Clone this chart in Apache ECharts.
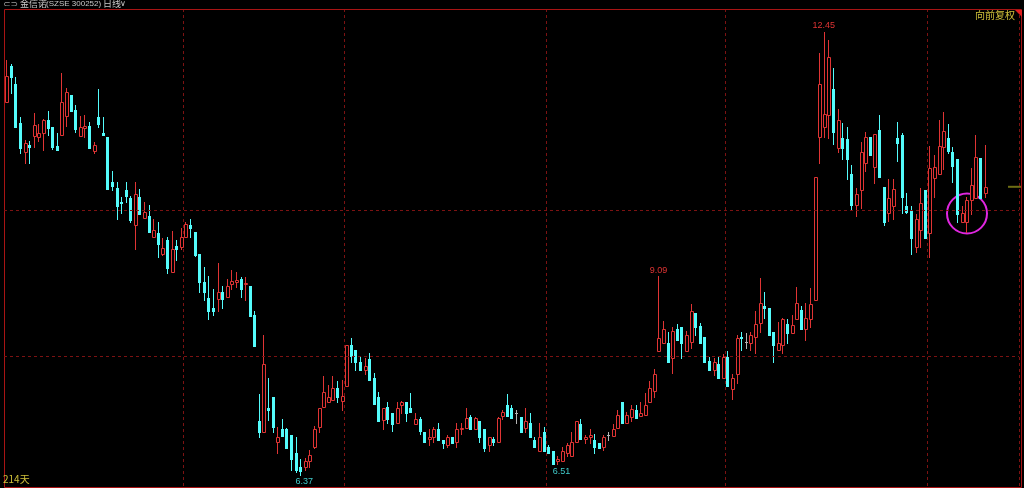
<!DOCTYPE html>
<html>
<head>
<meta charset="utf-8">
<script src="https://cdn.jsdelivr.net/npm/echarts@6/dist/echarts.min.js"></script>
<style>
html, body { margin: 0; padding: 0; background: #000; }
#chart { width: 1024px; height: 488px; }
</style>
</head>
<body>
<div id="chart"></div>
<script>
// 金信诺 日线 前复权, 214 根K线
var openP = [
  11.49, 11.98, 11.73, 11.20, 10.80, 10.90, 11.02, 11.01, 11.06, 11.23,
  11.14, 10.88, 11.03, 11.29, 11.58, 11.38, 11.02, 11.13, 11.16, 10.81,
  11.28, 11.06, 11.01, 10.39, 10.31, 10.11, 10.28, 10.16, 9.79, 10.18,
  9.89, 9.92, 9.63, 9.69, 9.40, 9.59, 9.15, 9.51, 9.50, 9.63,
  9.80, 9.70, 9.40, 9.02, 8.80, 8.66, 8.78, 8.87, 8.81, 8.99,
  9.02, 9.06, 8.99, 8.96, 8.56, 7.11, 6.96, 7.29, 7.43, 6.82,
  6.99, 6.99, 6.92, 6.67, 6.48, 6.48, 6.55, 6.75, 7.03, 7.30,
  7.37, 7.40, 7.56, 7.38, 7.58, 8.15, 8.08, 7.91, 7.81, 7.95,
  7.70, 7.44, 7.12, 7.30, 7.21, 7.08, 7.32, 7.36, 7.29, 7.07,
  7.14, 6.96, 6.86, 6.89, 6.99, 6.85, 6.78, 6.89, 6.82, 7.00,
  7.01, 7.16, 6.99, 7.10, 6.99, 6.78, 6.86, 6.82, 7.18, 7.32,
  7.29, 7.21, 7.16, 7.01, 7.08, 6.85, 6.69, 6.96, 6.75, 6.69,
  6.55, 6.55, 6.67, 6.63, 6.82, 7.07, 6.86, 6.88, 6.84, 6.81,
  6.75, 6.92, 6.90, 7.01, 7.36, 7.08, 7.16, 7.26, 7.18, 7.19,
  7.37, 7.52, 8.07, 8.18, 8.17, 7.97, 8.37, 8.39, 8.07, 8.19,
  8.59, 8.41, 8.26, 7.93, 7.80, 7.89, 7.70, 7.99, 7.55, 7.75,
  8.26, 8.19, 8.18, 8.26, 8.45, 8.69, 8.66, 8.33, 8.08, 8.15,
  8.44, 8.32, 8.51, 8.63, 8.37, 8.51, 8.77, 11.01, 11.14, 11.31,
  11.66, 10.85, 10.99, 10.98, 10.50, 10.07, 10.27, 10.64, 11.01, 10.59,
  11.10, 10.32, 9.96, 10.06, 10.99, 11.03, 10.06, 9.99, 9.50, 9.73,
  10.28, 9.69, 10.44, 10.50, 10.87, 10.99, 10.80, 10.70, 9.84, 9.84,
  10.14, 10.16, 10.72, 10.24
];
var closeP = [
  11.84, 11.83, 11.14, 10.85, 10.92, 10.87, 11.17, 11.06, 11.24, 11.13,
  10.87, 10.83, 11.49, 11.62, 11.36, 11.12, 11.14, 11.16, 10.85, 10.90,
  11.18, 11.03, 10.29, 10.33, 10.05, 10.10, 10.20, 9.87, 10.22, 9.95,
  9.98, 9.70, 9.73, 9.54, 9.48, 9.21, 9.47, 9.47, 9.63, 9.81,
  9.76, 9.39, 9.02, 8.87, 8.61, 8.62, 8.88, 8.78, 8.96, 9.03,
  9.04, 8.92, 9.00, 8.55, 8.13, 6.95, 7.89, 7.25, 7.03, 6.89,
  6.90, 6.73, 6.59, 6.44, 6.42, 6.55, 6.64, 6.99, 7.29, 7.51,
  7.43, 7.56, 7.44, 7.45, 8.15, 8.00, 7.91, 7.81, 7.86, 7.67,
  7.34, 7.11, 7.29, 7.14, 7.07, 7.29, 7.36, 7.22, 7.23, 7.14,
  6.97, 6.82, 6.89, 6.99, 6.85, 6.81, 6.88, 6.81, 6.99, 7.01,
  7.15, 6.99, 7.15, 6.88, 6.74, 6.88, 6.82, 7.15, 7.23, 7.18,
  7.15, 7.21, 6.96, 7.10, 6.88, 6.75, 6.89, 6.69, 6.66, 6.52,
  6.59, 6.69, 6.77, 6.82, 7.10, 6.86, 6.88, 6.92, 6.75, 6.74,
  6.89, 6.92, 7.00, 7.19, 7.08, 7.19, 7.27, 7.15, 7.22, 7.33,
  7.56, 7.75, 8.24, 8.37, 7.92, 8.34, 8.22, 8.18, 8.29, 8.61,
  8.40, 8.18, 7.91, 7.80, 7.92, 7.69, 7.99, 7.59, 7.69, 8.25,
  8.24, 8.19, 8.29, 8.44, 8.73, 8.66, 8.29, 8.15, 8.18, 8.51,
  8.32, 8.43, 8.73, 8.37, 8.52, 8.71, 10.45, 11.73, 11.32, 12.10,
  11.07, 11.24, 10.85, 10.70, 10.07, 10.22, 10.80, 11.01, 10.76, 11.05,
  10.46, 9.84, 10.17, 10.29, 10.92, 10.18, 9.98, 9.62, 9.88, 10.10,
  9.62, 10.58, 10.59, 10.88, 11.09, 10.81, 10.61, 9.94, 9.96, 10.14,
  10.35, 10.73, 10.17, 10.32
];
var lowP = [
  11.49, 11.61, 11.14, 10.79, 10.65, 10.65, 10.87, 10.95, 10.83, 11.03,
  10.84, 10.83, 11.03, 11.16, 11.36, 11.07, 11.02, 11.01, 10.85, 10.79,
  11.14, 11.03, 10.29, 10.28, 9.88, 9.96, 10.11, 9.84, 9.47, 9.95,
  9.89, 9.70, 9.63, 9.36, 9.39, 9.14, 9.15, 9.32, 9.46, 9.63,
  9.63, 9.37, 8.88, 8.77, 8.51, 8.56, 8.62, 8.66, 8.81, 8.92,
  8.95, 8.81, 8.77, 8.55, 8.13, 6.88, 6.96, 7.12, 6.96, 6.66,
  6.90, 6.73, 6.44, 6.41, 6.37, 6.44, 6.48, 6.73, 6.95, 7.30,
  7.37, 7.40, 7.36, 7.26, 7.58, 7.91, 7.80, 7.81, 7.75, 7.67,
  7.34, 7.11, 7.00, 7.08, 6.97, 7.08, 7.22, 7.10, 7.23, 7.07,
  6.93, 6.82, 6.78, 6.82, 6.85, 6.74, 6.75, 6.81, 6.75, 6.93,
  7.01, 6.99, 6.99, 6.82, 6.69, 6.70, 6.78, 6.82, 7.14, 7.18,
  7.15, 7.08, 6.96, 6.96, 6.88, 6.75, 6.69, 6.69, 6.66, 6.52,
  6.51, 6.55, 6.62, 6.63, 6.82, 6.86, 6.81, 6.81, 6.67, 6.74,
  6.71, 6.85, 6.90, 7.01, 7.08, 7.08, 7.10, 7.15, 7.18, 7.19,
  7.36, 7.44, 8.07, 8.18, 7.92, 7.77, 8.22, 7.97, 8.07, 8.11,
  8.29, 8.18, 7.91, 7.80, 7.74, 7.69, 7.70, 7.59, 7.41, 7.63,
  8.08, 8.11, 8.08, 8.04, 8.33, 8.52, 8.29, 7.92, 8.08, 8.04,
  8.18, 8.32, 8.51, 8.37, 8.22, 8.40, 8.77, 10.65, 11.01, 10.99,
  10.91, 10.80, 10.70, 10.43, 10.00, 9.92, 10.03, 10.53, 10.76, 10.37,
  10.46, 9.79, 9.85, 9.88, 10.68, 9.96, 9.96, 9.40, 9.43, 9.50,
  9.62, 9.36, 10.18, 10.50, 10.57, 10.79, 10.39, 9.83, 9.84, 9.70,
  9.94, 10.16, 10.17, 10.18
];
var highP = [
  12.06, 12.01, 11.82, 11.28, 10.96, 10.95, 11.33, 11.18, 11.25, 11.36,
  11.14, 11.06, 11.88, 11.68, 11.58, 11.44, 11.29, 11.31, 11.21, 10.94,
  11.66, 11.28, 11.01, 10.54, 10.39, 10.18, 10.39, 10.20, 10.39, 10.29,
  10.11, 10.07, 9.88, 9.84, 9.62, 9.63, 9.72, 9.59, 9.76, 9.84,
  9.88, 9.70, 9.40, 9.22, 9.10, 8.92, 9.28, 8.96, 9.06, 9.18,
  9.15, 9.08, 9.08, 8.96, 8.61, 7.47, 8.29, 7.69, 7.43, 7.03,
  7.14, 7.01, 6.92, 6.88, 6.58, 6.60, 6.71, 7.04, 7.29, 7.73,
  7.60, 7.73, 7.66, 7.67, 8.15, 8.25, 8.08, 8.00, 7.97, 8.04,
  7.77, 7.51, 7.29, 7.36, 7.21, 7.36, 7.38, 7.37, 7.49, 7.22,
  7.16, 6.96, 6.99, 7.03, 7.08, 6.85, 6.92, 6.89, 7.08, 7.08,
  7.29, 7.19, 7.16, 7.10, 6.99, 6.89, 6.89, 7.16, 7.26, 7.48,
  7.33, 7.25, 7.16, 7.29, 7.22, 6.89, 7.08, 7.03, 6.78, 6.69,
  6.62, 6.75, 6.81, 6.96, 7.11, 7.14, 6.92, 7.00, 6.93, 6.81,
  6.92, 6.95, 7.07, 7.26, 7.36, 7.23, 7.33, 7.33, 7.36, 7.49,
  7.65, 7.82, 9.09, 8.48, 8.33, 8.40, 8.44, 8.39, 8.34, 8.71,
  8.59, 8.45, 8.26, 7.99, 7.97, 7.99, 8.02, 8.06, 7.75, 8.28,
  8.33, 8.32, 8.33, 8.62, 9.07, 8.87, 8.66, 8.33, 8.47, 8.52,
  8.50, 8.56, 8.95, 8.69, 8.73, 8.93, 10.45, 12.16, 12.45, 12.34,
  11.95, 11.39, 11.20, 11.14, 10.62, 10.31, 10.94, 11.07, 11.01, 11.05,
  11.31, 10.32, 10.43, 10.43, 11.21, 11.06, 10.24, 10.06, 9.95, 10.31,
  10.28, 10.88, 10.75, 11.23, 11.35, 11.18, 10.87, 10.70, 10.06, 10.18,
  10.58, 11.03, 10.72, 10.90
];
// 标注的高低点 [K线序号, 价格]
var noteHigh = [[178, 12.45], [142, 9.09]];
var noteLow = [[64, 6.37], [120, 6.51]];
// 分隔虚线所在的K线序号
var monthStarts = [39, 74, 118, 157, 201];
var priceLines = [10, 8];

var RED = '#e03434';
var CYAN = '#54fcfc';
var DOJI = '#b4b4b4';
var GRID_RED = '#7c1212';

var dayLabels = [];
for (var i = 0; i < openP.length; i++) dayLabels.push(String(i + 1));
// 右侧留白
for (var j = 0; j < 7; j++) dayLabels.push('');

var kData = [];
for (var k = 0; k < openP.length; k++) {
  kData.push([k, openP[k], closeP[k], lowP[k], highP[k]]);
}

// 自己画K线, 让线条落在整像素上: 阳线空心红, 阴线实心青, 平盘灰
function renderCandle(params, api) {
  var idx = api.value(0);
  var o = api.value(1), c = api.value(2), lo = api.value(3), hi = api.value(4);
  var pO = api.coord([idx, o]);
  var x = Math.round(pO[0]);
  var yO = Math.round(pO[1]);
  var yC = Math.round(api.coord([idx, c])[1]);
  var yL = Math.round(api.coord([idx, lo])[1]);
  var yH = Math.round(api.coord([idx, hi])[1]);
  var top = Math.min(yO, yC), bot = Math.max(yO, yC);
  var wx = x + 0.5;
  var kids = [];
  if (c > o) {
    if (yH < top) kids.push({ type: 'line', shape: { x1: wx, y1: yH, x2: wx, y2: top }, style: { stroke: RED, lineWidth: 1 } });
    if (yL > bot) kids.push({ type: 'line', shape: { x1: wx, y1: bot + 1, x2: wx, y2: yL + 1 }, style: { stroke: RED, lineWidth: 1 } });
    kids.push({ type: 'rect', shape: { x: x - 0.5, y: top + 0.5, width: 3, height: bot - top },
      style: { fill: '#000', stroke: RED, lineWidth: 1 } });
  } else if (c < o) {
    kids.push({ type: 'line', shape: { x1: wx, y1: yH, x2: wx, y2: yL + 1 }, style: { stroke: CYAN, lineWidth: 1 } });
    kids.push({ type: 'rect', shape: { x: x - 1, y: top, width: 3, height: bot - top + 1 },
      style: { fill: CYAN } });
  } else {
    kids.push({ type: 'line', shape: { x1: wx, y1: yH, x2: wx, y2: yL + 1 }, style: { stroke: DOJI, lineWidth: 1 } });
    kids.push({ type: 'line', shape: { x1: x - 1, y1: yO + 0.5, x2: x + 2, y2: yO + 0.5 }, style: { stroke: DOJI, lineWidth: 1 } });
  }
  return { type: 'group', children: kids };
}

var marks = [];
noteHigh.forEach(function (p) {
  marks.push({ coord: p, value: p[1].toFixed(2),
    label: { position: 'top', distance: 1, color: RED } });
});
noteLow.forEach(function (p) {
  marks.push({ coord: p, value: p[1].toFixed(2),
    label: { position: 'bottom', distance: 2, offset: [4, 0], color: '#40cccc' } });
});

var myChart = echarts.init(document.getElementById('chart'));
myChart.setOption({
  backgroundColor: '#000',
  animation: false,
  grid: { left: 4, right: 5, top: 9, bottom: 1 },
  xAxis: {
    type: 'category',
    data: dayLabels,
    boundaryGap: true,
    axisLine: { show: false },
    axisTick: { show: false },
    axisLabel: { show: false },
    splitLine: {
      show: true,
      interval: function (index) { return monthStarts.indexOf(index) >= 0; },
      lineStyle: { color: GRID_RED, type: [3, 3], width: 1 }
    }
  },
  yAxis: {
    type: 'value',
    min: 6.2,
    max: 12.76,
    axisLine: { show: false },
    axisTick: { show: false },
    axisLabel: { show: false },
    splitLine: { show: false }
  },
  series: [{
    type: 'custom',
    renderItem: renderCandle,
    data: kData,
    encode: { x: 0, y: [1, 2, 3, 4] },
    markLine: {
      silent: true,
      symbol: 'none',
      label: { show: false },
      lineStyle: { color: GRID_RED, type: [3, 3], width: 1 },
      data: priceLines.map(function (p) { return { yAxis: p }; })
    },
    markPoint: {
      symbol: 'rect',
      symbolSize: 1,
      itemStyle: { color: 'rgba(0,0,0,0)' },
      label: { show: true, fontSize: 9, fontFamily: 'Liberation Sans', formatter: '{c}' },
      data: marks
    }
  }]
});

// 最新价位置的小横线
var lastY = myChart.convertToPixel({ gridIndex: 0 }, [0, closeP[closeP.length - 1]])[1];

myChart.setOption({
  graphic: [
    { type: 'rect', shape: { x: 4.5, y: 9.5, width: 1017, height: 478 },
      style: { fill: null, stroke: '#a81414', lineWidth: 1 }, silent: true },
    { type: 'polygon', shape: { points: [[1015, 10], [1022, 10], [1022, 17]] },
      style: { fill: '#e02020' } },
    { type: 'text', left: 3, top: 0,
      style: { text: '⊂⊃', fill: '#9a9a9a', font: '9px "DejaVu Sans"' } },
    { type: 'text', left: 20, top: -1,
      style: { text: '金信诺', fill: '#c8c8c8', font: '9px "Noto Sans CJK SC"' } },
    { type: 'text', left: 46, top: 0,
      style: { text: '(SZSE 300252)', fill: '#c8c8c8', font: '8px "Liberation Sans"' } },
    { type: 'text', left: 103, top: -1,
      style: { text: '日线', fill: '#c8c8c8', font: '9px "Noto Sans CJK SC"' } },
    { type: 'text', left: 120, top: 0,
      style: { text: '∨', fill: '#c8c8c8', font: '8px "DejaVu Sans"' } },
    { type: 'text', right: 9, top: 10,
      style: { text: '向前复权', fill: '#cfc03a', font: '10px "Noto Sans CJK SC"' } },
    { type: 'text', left: 3, top: 474,
      style: { text: '214天', fill: '#cfc03a', font: '10px "Noto Sans CJK SC"' } },
    { type: 'circle', shape: { cx: 967, cy: 213.5, r: 20 },
      style: { fill: null, stroke: '#e026e0', lineWidth: 2 } },
    { type: 'rect', shape: { x: 1008, y: lastY - 1, width: 13, height: 2 },
      style: { fill: '#6e6e14' } }
  ]
});
</script>
</body>
</html>
